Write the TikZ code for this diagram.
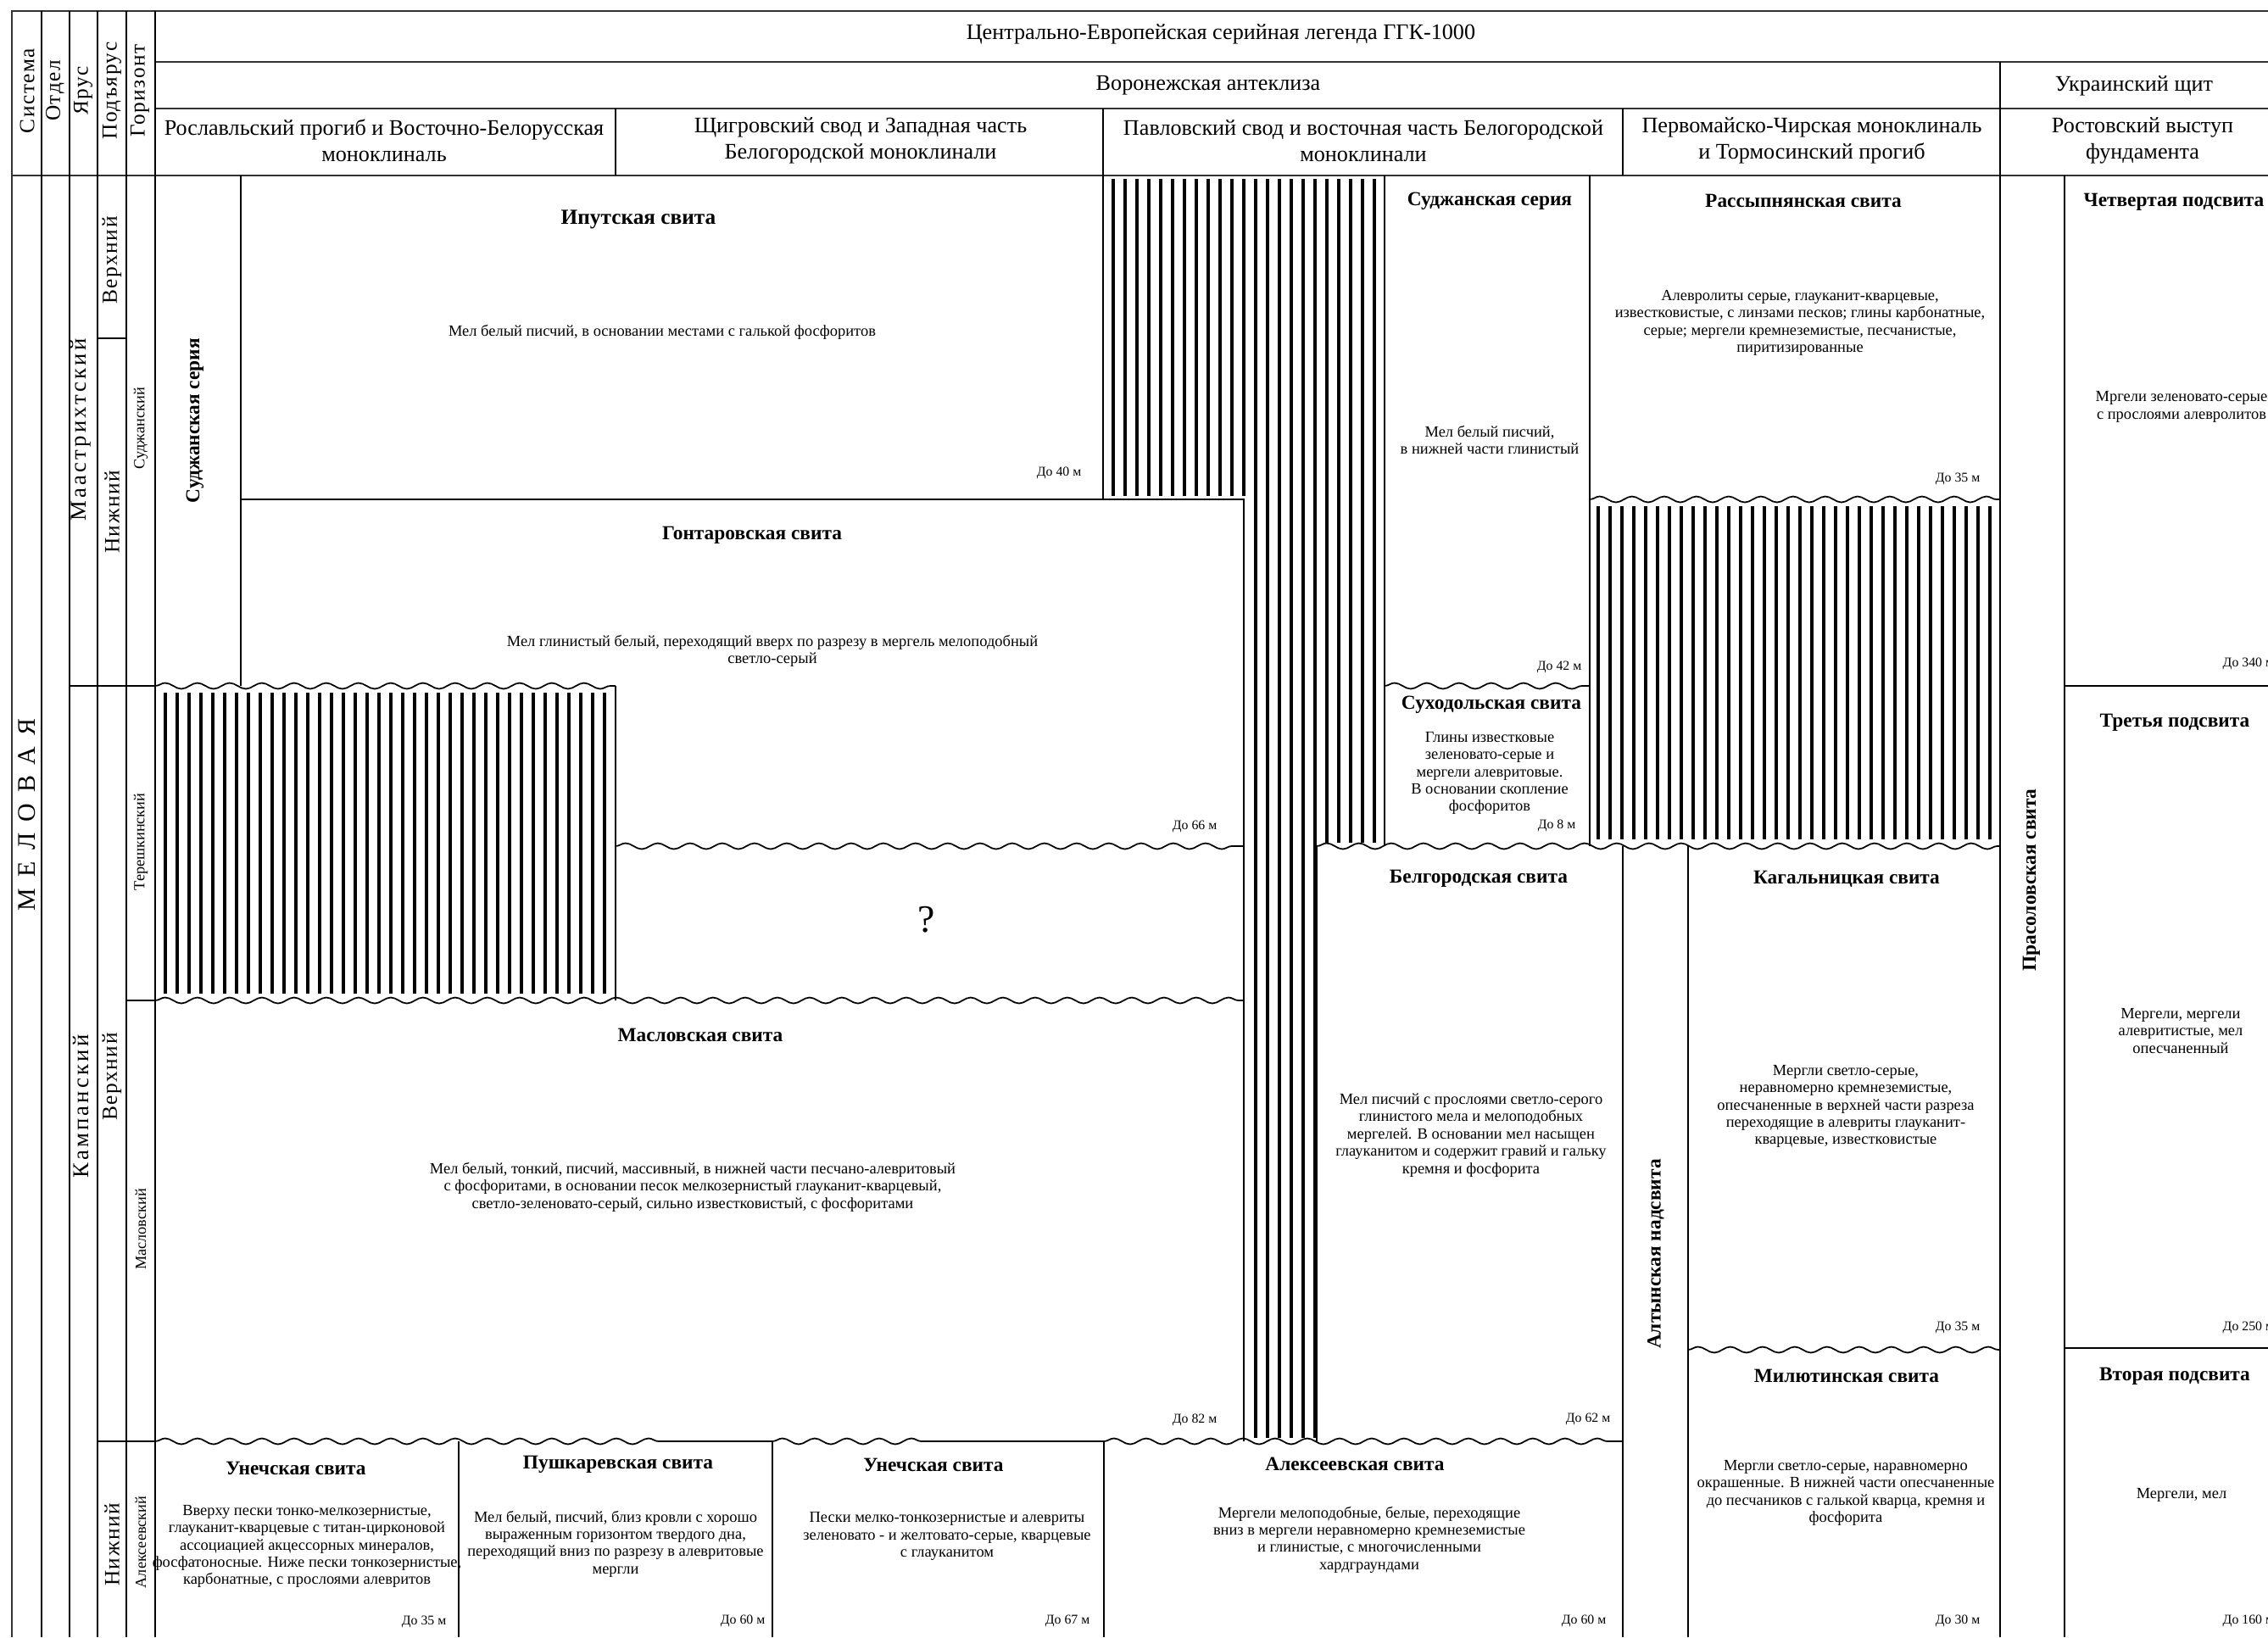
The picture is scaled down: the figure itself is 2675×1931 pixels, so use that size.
\documentclass[tikz,border=0pt]{standalone}
\usepackage{fontspec}
\setmainfont{Liberation Serif}
\usetikzlibrary{decorations.pathmorphing}

\tikzset{
  grid/.style={line width=0.5pt},
  frame/.style={line width=0.7pt, black!80},
  wave/.style={line width=0.5pt, decorate, decoration={snake, segment length=3.8mm, amplitude=0.35mm}},
  hatch/.style={line width=0.9pt},
  hdr/.style={inner sep=0pt, align=center, font=\fontsize{7.45}{8.8}\selectfont},
  colhdr/.style={inner sep=0pt, rotate=90, font=\fontsize{7.2}{8}\selectfont\addfontfeature{LetterSpace=6}},
  stage/.style={inner sep=0pt, rotate=90, font=\fontsize{7.6}{8}\selectfont\addfontfeature{LetterSpace=12}},
  hrz/.style={inner sep=0pt, rotate=90, font=\fontsize{5.2}{6}\selectfont},
  ttl/.style={inner sep=0pt, font=\bfseries\fontsize{6.65}{8}\selectfont},
  vttl/.style={ttl, rotate=90},
  dsc/.style={inner sep=0pt, align=center, font=\fontsize{5.25}{5.8}\selectfont},
  dmax/.style={inner sep=0pt, anchor=east, font=\fontsize{4.5}{5}\selectfont},
}

\begin{document}
\begin{tikzpicture}[x=0.1mm, y=-0.1mm]
\useasboundingbox (0,0) rectangle (2675,1931);
\clip (0,0) rectangle (2675,1931);

\draw[frame] (14,1931) -- (14,13) -- (2700,13);
\draw[frame] (183,73) -- (2700,73);
\draw[frame] (183,128) -- (2700,128);
\draw[frame] (14,207) -- (2700,207);
\foreach \x in {49,82,115,149,183}
  \draw[grid] (\x,13) -- (\x,1931);
\foreach \x in {726,1301,1914}
  \draw[grid] (\x,128) -- (\x,207);
\draw[grid] (2359,73) -- (2359,1931);

\draw[grid] (82,809) -- (183,809);
\draw[grid] (115,399) -- (149,399);
\draw[grid] (149,1180) -- (183,1180);
\draw[grid] (115,1700) -- (183,1700);

\draw[grid] (284,207) -- (284,809);
\draw[grid] (1301,207) -- (1301,589);
\draw[grid] (284,589) -- (1467,589) -- (1467,1700);
\draw[grid] (726,809) -- (726,1180);
\draw[grid] (1553,998) -- (1553,1700);
\draw[grid] (1633,207) -- (1633,998);
\draw[grid] (1875,207) -- (1875,998);
\draw[grid] (1914,998) -- (1914,1931);
\draw[grid] (1991,998) -- (1991,1931);
\draw[grid] (2435,207) -- (2435,1931);
\draw[grid] (2435,809) -- (2700,809);
\draw[grid] (2435,1590) -- (2700,1590);
\foreach \x in {541,911,1302}
  \draw[grid] (\x,1700) -- (\x,1931);

\draw[wave] (183,809) -- (726,809);
\draw[wave] (726,998) -- (1467,998);
\draw[wave] (183,1180) -- (1467,1180);
\draw[wave] (1633,809) -- (1875,809);
\draw[wave] (1553,998) -- (2359,998);
\draw[wave] (1875,589) -- (2359,589);
\draw[wave] (1991,1592) -- (2359,1592);
\draw[wave] (183,1700) -- (790,1700);
\draw[grid] (790,1700) -- (911,1700);
\draw[wave] (911,1700) -- (1095,1700);
\draw[grid] (1095,1700) -- (1302,1700);
\draw[wave] (1302,1700) -- (1914,1700);

\foreach \x in {195,209,...,713}
  \draw[hatch] (\x,817) -- (\x,1172);
\foreach \x in {1313,1327,...,1467}
  \draw[hatch] (\x,211) -- (\x,585);
\foreach \x in {1481,1495,...,1551}
  \draw[hatch] (\x,211) -- (\x,1696);
\foreach \x in {1565,1579,...,1621}
  \draw[hatch] (\x,211) -- (\x,994);
\foreach \x in {1885,1899,...,2347}
  \draw[hatch] (\x,597) -- (\x,990);

\node[hdr] (legend) at (1440,40) {Центрально-Европейская серийная легенда ГГК-1000};
\node[hdr] (voronezh) at (1425,101) {Воронежская антеклиза};
\node[hdr] (ukrshield) at (2517,101) {Украинский щит};
\node[hdr] (roslavl) at (453,166) {Рославльский прогиб и Восточно-Белорусская\\моноклиналь};
\node[hdr] (shchigry) at (1015,166) {Щигровский свод и Западная часть\\Белогородской моноклинали};
\node[hdr] (pavlovsk) at (1608,166) {Павловский свод и восточная часть Белогородской\\моноклинали};
\node[hdr] (pervomay) at (2137,166) {Первомайско-Чирская моноклиналь\\и Тормосинский прогиб};
\node[hdr] (rostov) at (2527,166) {Ростовский выступ\\фундамента};

\node[colhdr] (sistema) at (32,107) {Система};
\node[colhdr] (otdel) at (65,107) {Отдел};
\node[colhdr] (yarus) at (98,107) {Ярус};
\node[colhdr] (podyarus) at (132,107) {Подъярус};
\node[colhdr] (gorizont) at (165,107) {Горизонт};

\node[inner sep=0pt, rotate=90, font=\fontsize{8.5}{9}\selectfont\addfontfeature{LetterSpace=45}] (melovaya) at (32,961) {МЕЛОВАЯ};
\node[stage] (maastr) at (95,507) {Маастрихтский};
\node[stage] (kampan) at (95,1305) {Кампанский};
\node[colhdr] (mVerh) at (132,307) {Верхний};
\node[colhdr] (mNizh) at (132,604) {Нижний};
\node[colhdr] (kVerh) at (132,1270) {Верхний};
\node[colhdr] (kNizh) at (132,1822) {Нижний};
\node[hrz] (sudzhH) at (166,505) {Суджанский};
\node[hrz] (tereshH) at (166,993) {Терешкинский};
\node[hrz] (maslovH) at (166,1450) {Масловский};
\node[hrz] (alekseevH) at (166,1819) {Алексеевский};

\node[vttl] (sudzhSerA) at (230,496) {Суджанская серия};
\node[ttl, font=\bfseries\fontsize{7.2}{8}\selectfont] (iputT) at (753,259) {Ипутская свита};
\node[dsc] (iputD) at (781,392) {Мел белый писчий, в основании местами с галькой фосфоритов};
\node[dmax] (iputM) at (1276,558) {До 40 м};

\node[ttl] (gontarT) at (887,631) {Гонтаровская свита};
\node[dsc] (gontarD) at (911,768) {Мел глинистый белый, переходящий вверх по разрезу в мергель мелоподобный\\светло-серый};
\node[dmax] (gontarM) at (1436,975) {До 66 м};
\node[inner sep=0pt, font=\fontsize{13}{14}\selectfont] (unknown) at (1093,1085) {?};

\node[ttl] (maslovT) at (826,1221) {Масловская свита};
\node[dsc] (maslovD) at (817,1400) {Мел белый, тонкий, писчий, массивный, в нижней части песчано-алевритовый\\с фосфоритами, в основании песок мелкозернистый глауканит-кварцевый,\\светло-зеленовато-серый, сильно известковистый, с фосфоритами};
\node[dmax] (maslovM) at (1436,1675) {До 82 м};

\node[ttl] (unechaT) at (349,1732) {Унечская свита};
\node[dsc] (unechaD) at (362,1824) {Вверху пески тонко-мелкозернистые,\\глауканит-кварцевые с титан-цирконовой\\ассоциацией акцессорных минералов,\\фосфатоносные. Ниже пески тонкозернистые,\\карбонатные, с прослоями алевритов};
\node[dmax] (unechaM) at (527,1913) {До 35 м};

\node[ttl] (pushkT) at (729,1727) {Пушкаревская свита};
\node[dsc] (pushkD) at (726,1821) {Мел белый, писчий, близ кровли с хорошо\\выраженным горизонтом твердого дна,\\переходящий вниз по разрезу в алевритовые\\мергли};
\node[dmax] (pushkM) at (903,1912) {До 60 м};

\node[ttl] (unecha2T) at (1101,1728) {Унечская свита};
\node[dsc] (unecha2D) at (1117,1812) {Пески мелко-тонкозернистые и алевриты\\зеленовато - и желтовато-серые, кварцевые\\с глауканитом};
\node[dmax] (unecha2M) at (1286,1912) {До 67 м};

\node[ttl] (alekseevT) at (1598,1727) {Алексеевская свита};
\node[dsc] (alekseevD) at (1615,1816) {Мергели мелоподобные, белые, переходящие\\вниз в мергели неравномерно кремнеземистые\\и глинистые, с многочисленными\\хардграундами};
\node[dmax] (alekseevM) at (1895,1912) {До 60 м};

\node[ttl] (sudzhSerB) at (1757,237) {Суджанская серия};
\node[dsc] (sudzhD) at (1757,519) {Мел белый писчий,\\в нижней части глинистый};
\node[dmax] (sudzhM) at (1866,787) {До 42 м};

\node[ttl] (sukhodT) at (1759,831) {Суходольская свита};
\node[dsc] (sukhodD) at (1757,912) {Глины известковые\\зеленовато-серые и\\мергели алевритовые.\\В основании скопление\\фосфоритов};
\node[dmax] (sukhodM) at (1859,974) {До 8 м};

\node[ttl] (belgorT) at (1744,1036) {Белгородская свита};
\node[dsc] (belgorD) at (1735,1339) {Мел писчий с прослоями светло-серого\\глинистого мела и мелоподобных\\мергелей. В основании мел насыщен\\глауканитом и содержит гравий и гальку\\кремня и фосфорита};
\node[dmax] (belgorM) at (1900,1674) {До 62 м};

\node[ttl] (rassypT) at (2127,237) {Рассыпнянская свита};
\node[dsc] (rassypD) at (2123,381) {Алевролиты серые, глауканит-кварцевые,\\известковистые, с линзами песков; глины карбонатные,\\серые; мергели кремнеземистые, песчанистые,\\пиритизированные};
\node[dmax] (rassypM) at (2336,565) {До 35 м};

\node[vttl] (altyn) at (1953,1479) {Алтынская надсвита};
\node[ttl] (kagalT) at (2178,1037) {Кагальницкая свита};
\node[dsc] (kagalD) at (2177,1305) {Мергли светло-серые,\\неравномерно кремнеземистые,\\опесчаненные в верхней части разреза\\переходящие в алевриты глауканит-\\кварцевые, известковистые};
\node[dmax] (kagalM) at (2336,1566) {До 35 м};

\node[ttl] (milyutT) at (2178,1623) {Милютинская свита};
\node[dsc] (milyutD) at (2177,1761) {Мергли светло-серые, наравномерно\\окрашенные. В нижней части опесчаненные\\до песчаников с галькой кварца, кремня и\\фосфорита};
\node[dmax] (milyutM) at (2336,1912) {До 30 м};

\node[vttl] (prasol) at (2396,1038) {Прасоловская свита};
\node[ttl] (podsv4T) at (2564,238) {Четвертая подсвита};
\node[dsc] (podsv4D) at (2573,480) {Мргели зеленовато-серые\\с прослоями алевролитов};
\node[dmax, anchor=west] (podsv4M) at (2621,783) {До 340 м};
\node[ttl] (podsv3T) at (2565,852) {Третья подсвита};
\node[dsc] (podsv3D) at (2572,1216) {Мергели, мергели\\алевритистые, мел\\опесчаненный};
\node[dmax, anchor=west] (podsv3M) at (2621,1566) {До 250 м};
\node[ttl] (podsv2T) at (2565,1623) {Вторая подсвита};
\node[dsc] (podsv2D) at (2573,1763) {Мергели, мел};
\node[dmax, anchor=west] (podsv2M) at (2621,1912) {До 160 м};
\end{tikzpicture}
\end{document}
